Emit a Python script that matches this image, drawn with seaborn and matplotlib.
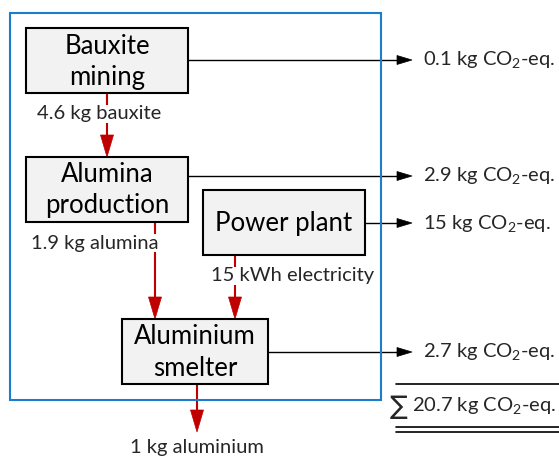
import matplotlib
matplotlib.use("Agg")
import matplotlib.pyplot as plt
from matplotlib.patches import Rectangle, Polygon
import seaborn as sns

sns.set_theme(style="white")
plt.rcParams['font.family'] = ['Lato', 'DejaVu Sans']
plt.rcParams['mathtext.fontset'] = 'custom'
plt.rcParams['mathtext.rm'] = 'Lato'
plt.rcParams['mathtext.it'] = 'Lato:italic'

# ---- data ----
processes = ["Bauxite\nmining", "Alumina\nproduction", "Power plant", "Aluminium\nsmelter"]
flow_labels = ["4.6 kg bauxite", "1.9 kg alumina", "15 kWh electricity", "1 kg aluminium"]
emissions = [0.1, 2.9, 15, 2.7]
emission_labels = ["0.1", "2.9", "15", "2.7"]
total_label = "20.7"

# ---- layout (pixel coordinates) ----
boxes = {  # x0, y0, x1, y1
    0: (26, 28, 188, 93),
    1: (26, 157, 188, 222),
    2: (203, 190, 365, 255),
    3: (122, 319, 268, 384),
}
emis_y = [60, 176, 223, 352]
RED = "#c00000"
BLUE = "#1a7dd0"
BOX_FS = 18.5
LAB_FS = 14.5

fig = plt.figure(figsize=(5.59, 4.57), dpi=100)
ax = fig.add_axes([0, 0, 1, 1])
ax.set_xlim(0, 559)
ax.set_ylim(457, 0)
ax.axis('off')

# system boundary
ax.add_patch(Rectangle((10, 12.5), 371, 387.5, fc='none', ec=BLUE, lw=1.5, zorder=5))

for i, name in enumerate(processes):
    x0, y0, x1, y1 = boxes[i]
    ax.add_patch(Rectangle((x0, y0), x1 - x0, y1 - y0, fc='#f2f2f2', ec='black', lw=1.5, zorder=3))
    ax.text((x0 + x1) / 2, (y0 + y1) / 2 + 1, name, ha='center', va='center',
            fontsize=BOX_FS, linespacing=1.3, zorder=4, color='black')


def red_arrow(x, y0, y1):
    ax.plot([x, x], [y0, y1 - 20], color=RED, lw=1.5, zorder=2, solid_capstyle='butt')
    ax.add_patch(Polygon([(x - 6.5, y1 - 22), (x + 6.5, y1 - 22), (x, y1)], closed=True,
                         fc=RED, ec=RED, lw=0.5, zorder=2))


def black_arrow(x0, x1, y):
    ax.plot([x0, x1 - 12], [y, y], color='black', lw=1.0, zorder=2)
    ax.add_patch(Polygon([(x1 - 15, y - 4.5), (x1 - 15, y + 4.5), (x1, y)], closed=True,
                         fc='black', ec='black', lw=0.5, zorder=2))


# material / energy flows
red_arrow(107, 93, 157)
red_arrow(155, 222, 319)
red_arrow(235, 255, 319)
red_arrow(197, 384, 432)

lab_kw = dict(ha='center', va='center', fontsize=LAB_FS, zorder=4,
              bbox=dict(fc='white', ec='none', pad=0.5))
ax.text(99, 114, flow_labels[0], **lab_kw)
ax.text(95, 243, flow_labels[1], **lab_kw)
ax.text(293, 276, flow_labels[2], **lab_kw)
ax.text(197, 447, flow_labels[3], ha='center', va='center', fontsize=LAB_FS, zorder=4)

# emissions
for i, (lab, y) in enumerate(zip(emission_labels, emis_y)):
    x1 = boxes[i][2]
    black_arrow(x1, 412, y)
    ax.text(423, y, f"{lab} kg CO$_2$-eq.", ha='left', va='center', fontsize=LAB_FS)

# sum
ax.plot([396, 559], [384, 384], color='black', lw=1.2)
ax.plot([396, 559], [427, 427], color='black', lw=1.2)
ax.plot([396, 559], [432, 432], color='black', lw=1.2)
ax.text(390, 407, "\u2211", ha='left', va='center', fontsize=19, family=['DejaVu Sans'])
ax.text(412, 406, f"{total_label} kg CO$_2$-eq.", ha='left', va='center', fontsize=LAB_FS)

fig.savefig("out.png", dpi=100)
